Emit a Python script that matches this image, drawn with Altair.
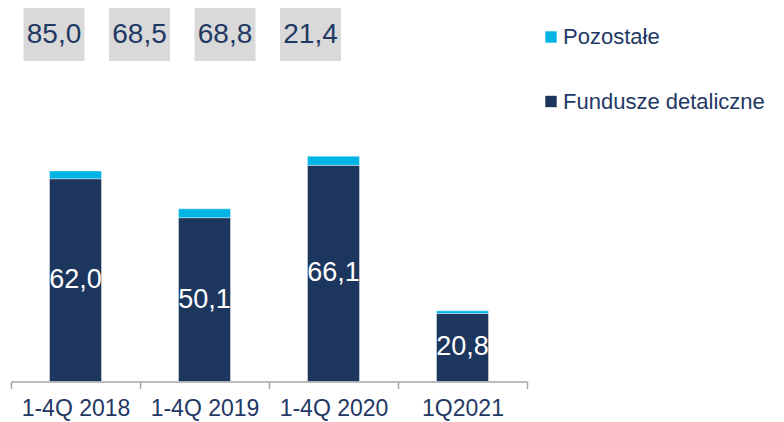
import altair as alt
import pandas as pd

categories = ["1-4Q 2018", "1-4Q 2019", "1-4Q 2020", "1Q2021"]
fundusze = [62.0, 50.1, 66.1, 20.8]
pozostale = [2.4, 2.7, 2.8, 0.8]
totals = ["85,0", "68,5", "68,8", "21,4"]
series_names = ["Pozostałe", "Fundusze detaliczne"]
series_colors = ["#00B4E4", "#1D365E"]

NAVY = "#1F3864"

rows = []
for i, c in enumerate(categories):
    rows.append({"cat": c, "series": series_names[1], "value": fundusze[i], "ord": 0,
                 "label": f"{fundusze[i]:.1f}".replace(".", ","), "mid": fundusze[i] / 2})
    rows.append({"cat": c, "series": series_names[0], "value": pozostale[i], "ord": 1,
                 "label": "", "mid": None})
df = pd.DataFrame(rows)
df_lab = df[df["ord"] == 0]
df_tot = pd.DataFrame({"cat": categories, "total": totals})

xscale = alt.Scale(domain=categories, range=[3, 519], paddingInner=0, paddingOuter=0)
yscale = alt.Scale(domain=[0, 100], range=[373.5, 46.5], nice=False, zero=True)

bars = alt.Chart(df).mark_bar(size=52, stroke="white", strokeWidth=0.4).encode(
    x=alt.X("cat:N", scale=xscale, sort=categories, title=None,
            axis=alt.Axis(tickBand="extent", labelAngle=0, labelFont="Liberation Sans",
                          labelFontSize=23, labelColor=NAVY, labelPadding=9,
                          domainColor="#A6A6A6", domainWidth=1.5, tickColor="#A6A6A6",
                          tickWidth=1.5, tickSize=7, grid=False)),
    y=alt.Y("value:Q", stack="zero", scale=yscale, axis=None),
    color=alt.Color("series:N", scale=alt.Scale(domain=series_names, range=series_colors),
                    legend=alt.Legend(title=None, orient="none", legendX=532, legendY=18,
                                      symbolType="square", symbolSize=130, symbolStrokeWidth=0,
                                      labelFont="Liberation Sans", labelFontSize=22,
                                      labelColor=NAVY, labelOffset=1, rowPadding=42.5,
                                      padding=0, labelLimit=400)),
    order=alt.Order("ord:Q"),
)

labels = alt.Chart(df_lab).mark_text(font="Liberation Sans", fontSize=27, color="white",
                                     baseline="middle", align="center").encode(
    x=alt.X("cat:N", scale=xscale, sort=categories),
    y=alt.Y("mid:Q", scale=yscale),
    text="label:N",
)

main = alt.layer(bars, labels)

bscale = alt.Scale(domain=categories, range=[3.25, 345.25], paddingInner=0.287, paddingOuter=0.1435)
boxes = alt.Chart(df_tot).mark_bar(color="#D9D9D9").encode(
    x=alt.X("cat:N", scale=bscale, sort=categories, axis=None),
    y=alt.value(-0.5),
    y2=alt.value(53),
)
box_text = alt.Chart(df_tot).mark_text(font="Liberation Sans", fontSize=28,
                                       color=NAVY, baseline="middle", align="center", dy=1).encode(
    x=alt.X("cat:N", scale=bscale, sort=categories, axis=None),
    y=alt.value(26),
    text="total:N",
)
top = alt.layer(boxes, box_text)

chart = alt.layer(top, main).resolve_scale(x="independent").properties(
    width=768, height=373.5,
    autosize=alt.AutoSizeParams(type="none"),
    padding={"left": 0, "top": 0, "right": 0, "bottom": 40},
    background="white",
).configure_view(stroke=None)

chart.save("out.html", embed_options={"renderer": "svg", "actions": False})
